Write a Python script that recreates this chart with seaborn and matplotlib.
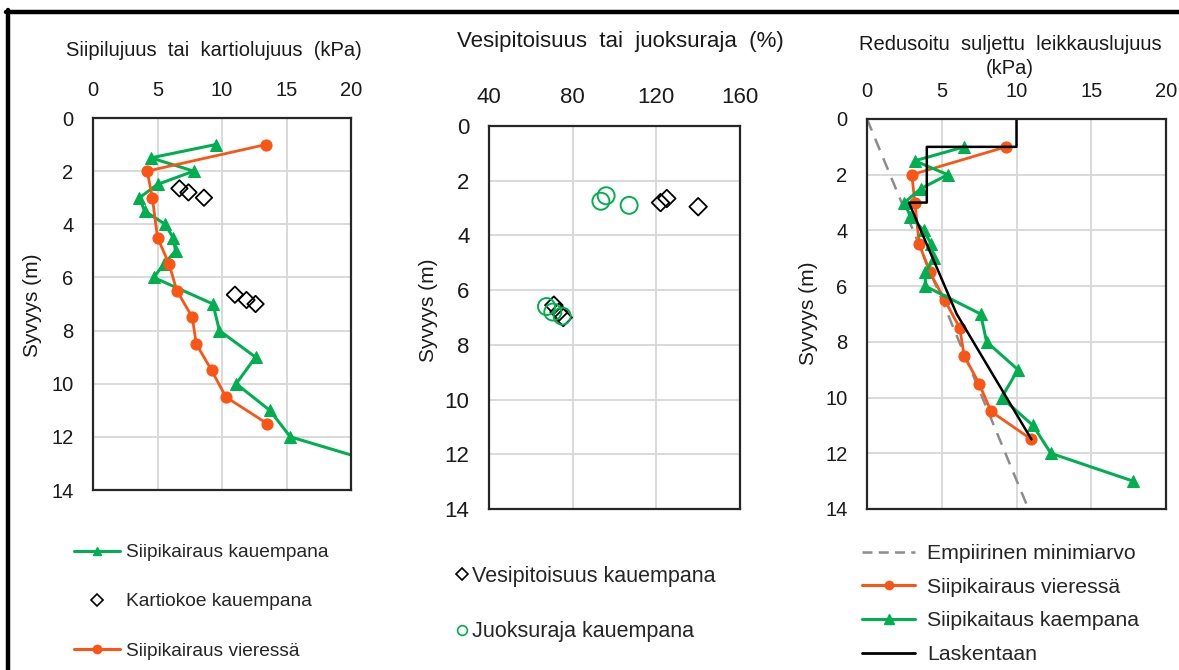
import numpy as np
import pandas as pd
import matplotlib
matplotlib.use("Agg")
import matplotlib.pyplot as plt
import seaborn as sns
from matplotlib.lines import Line2D

# ---------------- data ----------------
# Panel 1: vane / cone strength (kPa) vs depth (m)
p1_green_depth = [1.0, 1.5, 2.0, 2.5, 3.0, 3.5, 4.0, 4.5, 5.0, 5.5, 6.0, 7.0, 8.0, 9.0, 10.0, 11.0, 12.0, 13.0]
p1_green_val = [9.5, 4.5, 7.8, 5.0, 3.6, 4.0, 5.6, 6.2, 6.4, 5.5, 4.7, 9.3, 9.8, 12.6, 11.1, 13.7, 15.3, 22.2]
p1_orange_depth = [1.0, 2.0, 3.0, 4.5, 5.5, 6.5, 7.5, 8.5, 9.5, 10.5, 11.5]
p1_orange_val = [13.4, 4.2, 4.6, 5.0, 5.9, 6.5, 7.7, 8.0, 9.2, 10.3, 13.5]
p1_cone_depth = [2.65, 2.8, 3.0, 6.65, 6.85, 7.0]
p1_cone_val = [6.7, 7.4, 8.6, 11.0, 11.9, 12.6]

# Panel 2: water content / liquid limit (%) vs depth (m)
p2_water_depth = [2.65, 2.8, 2.95, 6.55, 6.8, 7.0]
p2_water_val = [125, 122, 140, 71, 73.5, 75.5]
p2_ll_depth = [2.55, 2.75, 2.9, 6.6, 6.8, 6.95]
p2_ll_val = [96, 93.5, 107, 67.5, 70.5, 75]

# Panel 3: reduced undrained shear strength (kPa) vs depth (m)
p3_emp_depth = [0.0, 14.0]
p3_emp_val = [0.0, 10.8]
p3_orange_depth = [1.0, 2.0, 3.0, 4.5, 5.5, 6.5, 7.5, 8.5, 9.5, 10.5, 11.5]
p3_orange_val = [9.3, 3.0, 3.2, 3.5, 4.2, 5.2, 6.2, 6.5, 7.5, 8.3, 11.0]
p3_green_depth = [1.0, 1.5, 2.0, 2.5, 3.0, 3.5, 4.0, 4.5, 5.0, 5.5, 6.0, 7.0, 8.0, 9.0, 10.0, 11.0, 12.0, 13.0]
p3_green_val = [6.5, 3.2, 5.4, 3.6, 2.5, 2.9, 3.8, 4.3, 4.5, 3.9, 3.9, 7.6, 8.0, 10.1, 9.0, 11.1, 12.3, 17.8]
p3_calc_depth = [0.0, 1.0, 1.0, 3.0, 3.0, 7.0, 11.5]
p3_calc_val = [10.0, 10.0, 4.0, 4.0, 2.8, 6.0, 11.0]

p1_xticks = [0, 5, 10, 15, 20]
p2_xticks = [40, 80, 120, 160]
p3_xticks = [0, 5, 10, 15, 20]
yticks = [0, 2, 4, 6, 8, 10, 12, 14]

GREEN = "#00B050"
ORANGE = "#FA5514"
GRAY = "#8C8C8C"

sns.set_theme(style="white")
plt.rcParams["font.family"] = ["Liberation Sans", "DejaVu Sans"]

W, H = 1179, 670
fig = plt.figure(figsize=(W / 100, H / 100), dpi=100)


def rect(l, t, r, b):
    return [l / W, 1 - b / H, (r - l) / W, (b - t) / H]


ax1 = fig.add_axes(rect(93, 118, 351, 490))
ax2 = fig.add_axes(rect(489, 126, 740, 509))
ax3 = fig.add_axes(rect(867, 119, 1166, 509))


def style(ax, xlim, xticks, fs):
    ax.set_xlim(*xlim)
    ax.set_ylim(14, 0)
    ax.set_xticks(xticks)
    ax.set_yticks(yticks)
    ax.xaxis.tick_top()
    ax.tick_params(axis="both", length=0, labelsize=fs, colors="#1a1a1a")
    ax.tick_params(axis="x", pad=13)
    ax.tick_params(axis="y", pad=14)
    ax.grid(True, color="#d9d9d9", lw=1.4)
    ax.set_axisbelow(True)
    for s in ax.spines.values():
        s.set_color("#262626")
        s.set_linewidth(1.6)
    ax.set_xlabel("")
    ax.set_ylabel("Syvyys (m)", fontsize=15, color="#1a1a1a")


# ---- Panel 1 ----
d1g = pd.DataFrame({"x": p1_green_val, "y": p1_green_depth})
d1o = pd.DataFrame({"x": p1_orange_val, "y": p1_orange_depth})
d1c = pd.DataFrame({"x": p1_cone_val, "y": p1_cone_depth})
sns.lineplot(data=d1g, x="x", y="y", sort=False, estimator=None, ax=ax1, color=GREEN,
             lw=2.2, marker="^", markersize=9, markeredgecolor=GREEN, label="Siipikairaus kauempana")
sns.scatterplot(data=d1c, x="x", y="y", ax=ax1, marker="D", s=70, facecolor="none",
                edgecolor="black", linewidth=1.3, label="Kartiokoe kauempana")
sns.lineplot(data=d1o, x="x", y="y", sort=False, estimator=None, ax=ax1, color=ORANGE,
             lw=2.0, marker="o", markersize=8, markeredgecolor=ORANGE, label="Siipikairaus vieressä")
style(ax1, (0, 20), p1_xticks, 14.5)
ax1.yaxis.set_label_coords((42 - 93) / 258, (490 - 305) / 372)
h1 = [Line2D([], [], color=GREEN, lw=2.2, marker="^", markersize=6),
      Line2D([], [], ls="none", marker="D", markersize=6, markerfacecolor="none", markeredgecolor="black", mew=1.2),
      Line2D([], [], color=ORANGE, lw=2.2, marker="o", markersize=6)]
ax1.legend(h1, ["Siipikairaus kauempana", "Kartiokoe kauempana", "Siipikairaus vieressä"],
           loc="upper left", bbox_to_anchor=(74 / W, 1 - 544 / H), bbox_transform=fig.transFigure,
           frameon=False, fontsize=13.8, handlelength=2.4, handletextpad=0.3, labelspacing=1.65,
           borderaxespad=0, borderpad=0)
fig.text(214 / W, 1 - 50 / H, "Siipilujuus  tai  kartiolujuus  (kPa)", ha="center", va="center",
         fontsize=14.5, color="#1a1a1a")

# ---- Panel 2 ----
d2w = pd.DataFrame({"x": p2_water_val, "y": p2_water_depth})
d2l = pd.DataFrame({"x": p2_ll_val, "y": p2_ll_depth})
sns.scatterplot(data=d2w, x="x", y="y", ax=ax2, marker="D", s=80, facecolor="none",
                edgecolor="black", linewidth=1.3)
sns.scatterplot(data=d2l, x="x", y="y", ax=ax2, marker="o", s=150, facecolor="none",
                edgecolor=GREEN, linewidth=1.4)
style(ax2, (40, 160), p2_xticks, 16)
ax2.yaxis.set_label_coords((438 - 489) / 251, (509 - 310) / 383)
h2 = [Line2D([], [], ls="none", marker="D", markersize=6, markerfacecolor="none", markeredgecolor="black", mew=1.2),
      Line2D([], [], ls="none", marker="o", markersize=7, markerfacecolor="none", markeredgecolor=GREEN, mew=1.2)]
ax2.legend(h2, ["Vesipitoisuus kauempana", "Juoksuraja kauempana"],
           loc="upper left", bbox_to_anchor=(454 / W, 1 - 566 / H), bbox_transform=fig.transFigure,
           frameon=False, fontsize=15.5, handlelength=0.7, handletextpad=0.15, labelspacing=1.6,
           borderaxespad=0, borderpad=0)
fig.text(620 / W, 1 - 42 / H, "Vesipitoisuus  tai  juoksuraja  (%)", ha="center", va="center",
         fontsize=16, color="#1a1a1a")

# ---- Panel 3 ----
d3e = pd.DataFrame({"x": p3_emp_val, "y": p3_emp_depth})
d3o = pd.DataFrame({"x": p3_orange_val, "y": p3_orange_depth})
d3g = pd.DataFrame({"x": p3_green_val, "y": p3_green_depth})
d3c = pd.DataFrame({"x": p3_calc_val, "y": p3_calc_depth})
sns.lineplot(data=d3e, x="x", y="y", sort=False, estimator=None, ax=ax3, color=GRAY,
             lw=1.8, dashes=False, linestyle=(0, (5, 3.5)))
sns.lineplot(data=d3o, x="x", y="y", sort=False, estimator=None, ax=ax3, color=ORANGE,
             lw=2.0, marker="o", markersize=8, markeredgecolor=ORANGE)
sns.lineplot(data=d3g, x="x", y="y", sort=False, estimator=None, ax=ax3, color=GREEN,
             lw=2.2, marker="^", markersize=9, markeredgecolor=GREEN)
sns.lineplot(data=d3c, x="x", y="y", sort=False, estimator=None, ax=ax3, color="black", lw=1.8)
style(ax3, (0, 20), p3_xticks, 14.5)
ax3.yaxis.set_label_coords((818 - 867) / 299, (509 - 313) / 390)
h3 = [Line2D([], [], color=GRAY, lw=1.8, ls=(0, (4, 2.5))),
      Line2D([], [], color=ORANGE, lw=2.2, marker="o", markersize=6),
      Line2D([], [], color=GREEN, lw=2.2, marker="^", markersize=7),
      Line2D([], [], color="black", lw=2.0)]
ax3.legend(h3, ["Empiirinen minimiarvo", "Siipikairaus vieressä", "Siipikaitaus kaempana", "Laskentaan"],
           loc="upper left", bbox_to_anchor=(862 / W, 1 - 544 / H), bbox_transform=fig.transFigure,
           frameon=False, fontsize=15.3, handlelength=2.5, handletextpad=0.55, labelspacing=0.69,
           borderaxespad=0, borderpad=0)
fig.text(1010 / W, 1 - 44 / H, "Redusoitu  suljettu  leikkauslujuus", ha="center", va="center",
         fontsize=14.5, color="#1a1a1a")
fig.text(1010 / W, 1 - 68 / H, "(kPa)", ha="center", va="center", fontsize=14.5, color="#1a1a1a")

# outer frame (top and left edges visible)
fig.add_artist(Line2D([6 / W, 1.0], [1 - 12 / H, 1 - 12 / H], color="black", lw=3.2,
                      transform=fig.transFigure))
fig.add_artist(Line2D([8 / W, 8 / W], [1 - 10 / H, 0.0], color="black", lw=3.2,
                      transform=fig.transFigure))

fig.savefig("out.png", dpi=100)
